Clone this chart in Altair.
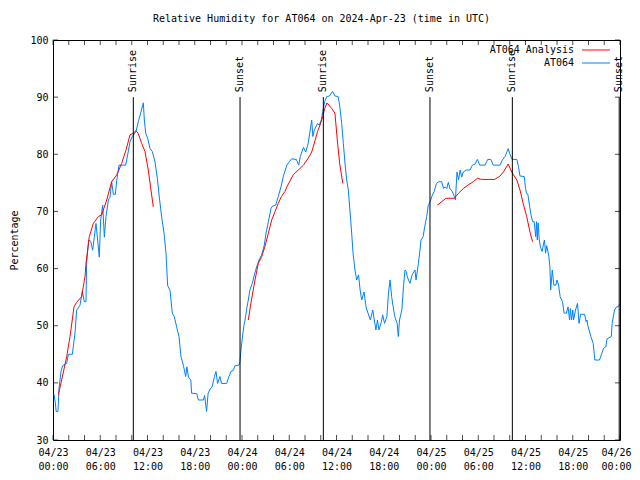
import altair as alt
import pandas as pd

# ---- data ----
obs_hours = [0.13, 0.3, 0.4, 0.63, 0.76, 1.02, 1.23, 1.74, 1.95, 2.46, 2.79, 3.0, 3.43, 3.72, 3.98, 4.19, 4.27,
             4.53, 4.78, 5.04, 5.25, 5.46, 5.67, 5.88, 6.05, 6.31, 6.52, 6.73, 7.03, 7.24, 7.45, 7.66, 7.92, 8.09,
             8.38, 9.23, 9.48, 9.78, 10.07, 10.54, 10.83, 11.13, 11.47, 11.6, 11.77, 12.02, 12.32, 12.61, 12.95,
             13.25, 13.5, 13.8, 14.1, 14.35, 14.56, 14.86, 15.15, 15.4, 15.7, 16.0, 16.25, 16.55, 16.85, 17.0,
             17.2, 17.5, 17.6, 18.25, 18.46, 19.1, 19.25, 19.4, 19.5, 19.7, 19.95, 20.2, 20.5, 20.7, 20.9, 21.2,
             21.4, 22.05, 22.35, 22.6, 22.9, 23.1, 23.6, 23.74, 23.87, 24.04, 24.25, 24.38, 24.6, 24.8, 25.0,
             25.3, 25.57, 25.86, 26.16, 26.5, 26.83, 27.05, 27.35, 27.68, 27.85, 28.28, 28.6, 28.95, 29.3, 29.7,
             30.0, 30.3, 30.9, 31.2, 31.4, 31.8, 32.1, 32.4, 32.6, 32.85, 33.0, 33.2, 33.6, 33.8, 34.07, 34.25,
             34.5, 34.76, 35.1, 35.5, 35.8, 36.2, 36.4, 36.66, 36.87, 37.1, 37.3, 37.5, 37.7, 37.9, 38.1, 38.35,
             38.56, 38.8, 39.0, 39.2, 39.5, 39.75, 40.0, 40.3, 40.6, 40.8, 41.0, 41.2, 41.4, 41.7, 41.86, 42.1,
             42.4, 42.6, 42.8, 43.0, 43.2, 43.4, 43.7, 43.85, 44.0, 44.3, 44.5, 44.7, 44.85, 45.0, 45.33, 45.6,
             45.97, 46.1, 46.4, 46.6, 46.73, 47.0, 47.2, 47.45, 47.66, 47.9, 48.1, 48.4, 48.7, 49.0, 49.35, 49.6,
             49.8, 50.0, 50.2, 50.4, 50.7, 50.96, 51.1, 51.3, 51.5, 51.7, 51.9, 52.1, 52.5, 52.96, 53.25, 53.6,
             53.88, 54.2, 54.86, 55.2, 55.6, 55.9, 56.76, 57.05, 57.4, 57.8, 58.0, 58.3, 58.9, 59.1, 59.3, 59.85,
             60.0, 60.15, 60.3, 60.5, 60.7, 60.9, 61.1, 61.3, 61.4, 61.5, 61.6, 61.75, 61.9, 62.1, 62.4, 62.55,
             62.7, 62.97, 63.1, 63.2, 63.3, 63.4, 63.6, 63.85, 64.0, 64.2, 64.4, 64.7, 64.9, 65.2, 65.4, 65.6,
             65.7, 65.85, 66.0, 66.1, 66.35, 66.6, 66.8, 67.0, 67.5, 67.7, 67.8, 67.9, 68.3, 68.6, 68.8, 69.4,
             69.7, 69.9, 70.2, 70.35, 70.9, 71.0, 71.3, 71.5, 71.8, 72.0]
obs_rh = [38, 36.5, 35, 35, 39, 42, 43, 43.4, 45, 45, 48.7, 52.7, 53.6, 56, 54.2, 54.2, 61,
          65, 64.8, 63.2, 65.6, 67.9, 65, 62, 68.5, 71.1, 65.5, 69.1, 72, 72.5, 75.2, 73, 73, 75.4,
          78.1, 78.1, 79.9, 82.2, 83.1, 84, 85.7, 87.2, 89, 86, 83.7, 82.8, 81, 80.5, 78.7,
          75.8, 72.5, 69, 66.2, 62.7, 57, 56.2, 52.2, 51.6, 49.8, 48.1, 44.6, 43.1, 41.1, 42.8,
          41, 40.5, 38.2, 38.1, 37, 37, 37.8, 36.1, 35, 38.2, 38.9, 39.3, 41.1, 42, 39.9, 41.1,
          39.9, 39.9, 41.1, 42, 42.2, 43, 43.1, 43.7, 45.75, 47.8, 50.1, 50.9, 53, 54.5, 56.25,
          57.4, 58.9, 60.3, 61.5, 62.4, 64.1, 66.2, 68.2, 70.5, 70.9, 71.1, 72.6, 74.3, 76.4, 78.1,
          78.7, 79.2, 79.1, 78.1, 79.6, 81.2, 80.4, 81.9, 83.7, 86, 83.1, 84.3, 85.4, 85.1, 86, 87.45,
          89.2, 90.1, 90.2, 91, 90.2, 90.1, 88.6, 85.4, 81.9, 78.1, 75.5, 73.75, 70.25, 66.75, 62.7, 59.75,
          58, 58.9, 56.25, 54.5, 55.9, 53.3, 52.2, 51, 52.75, 51, 49.25, 51, 49.25, 50.7, 51.9, 50.4,
          51.6, 55.7, 58, 55.1, 53.3, 51.6, 50.4, 48.1, 51, 52.75, 56.8, 59.75, 59.5, 58.5, 57.4, 58.9,
          59.75, 58, 60.9, 63.25, 65, 65.6, 67.3, 69.1, 71.1, 71.7, 72.6, 73.5, 74.9, 75.2, 75.2, 74,
          74.3, 74, 75.1, 74, 73.5, 72.6, 72, 76.9, 75.5, 77.25, 76, 76.9, 77.25, 77.25, 78.1, 78.3,
          79.1, 78.1, 78.1, 79.1, 79.1, 78.1, 78.1, 79, 79.6, 81, 80.1, 79.1, 79.1, 77.9, 76.2, 76.1,
          74, 73.1, 73.0, 71.1, 69.4, 68.2, 68.2, 65.6, 68.2, 65, 68, 65, 63.8, 63, 65, 62.7,
          64, 62.1, 60.3, 56.25, 58, 59.75, 57.1, 57.1, 58, 57.1, 55.1, 54.2, 52.2, 52.2, 53.3, 51,
          53, 51, 52.75, 51, 52.75, 53.9, 50.4, 52, 52, 50.7, 51, 50.1, 48.1, 46.9, 44, 44,
          45.2, 46, 46.3, 47.7, 48.1, 50.4, 52.75, 53.2, 53.4, 53.9]

ana_hours = [0.68, 1.1, 1.74, 2.16, 2.67, 3.0, 3.64, 4.06, 4.2, 4.61, 5.12, 5.76, 6.18, 6.82, 7.45, 8.09, 8.72,
             9.27, 9.78, 10.2, 10.54, 10.8, 11.26, 11.68, 12.1, 12.44, 12.74,
             24.8, 25.2, 25.65, 26.07, 26.5, 26.9, 27.35, 27.77, 28.2, 28.6, 29.0, 29.46, 29.7, 30.5, 31.15,
             31.8, 32.4, 32.85, 33.3, 33.6, 33.9, 34.25, 34.5, 34.8, 35.4, 35.8, 36.1, 36.4, 36.8,
             48.8, 49.35, 49.9, 50.96, 51.5, 52.1, 52.7, 53.37, 53.9, 54.4, 56.1, 56.76, 57.2, 57.8, 58.25,
             58.9, 59.3, 59.7, 60.15, 60.6, 60.9]
ana_rh = [37.9, 40.5, 44.6, 48.1, 53.3, 54.1, 55.1, 58.6, 61, 65.6, 67.9, 69.1, 69.4, 72, 75.2, 76.4, 78.4,
          80.75, 83.4, 83.7, 84.1, 83.7, 81.9, 80.5, 77.25, 73.75, 70.8,
          51, 54.5, 58, 60.9, 62.1, 63.8, 66.2, 68.5, 70, 71.4, 72.6, 73.5, 74.3, 76.4, 77.25,
          78.1, 79.3, 80.4, 82.5, 84, 85.1, 86.6, 88, 89, 88, 87.2, 82.5, 78.4, 74.9,
          71.1, 71.7, 72.3, 72.3, 73.2, 74.0, 74.6, 75.2, 75.8, 75.6, 75.6, 76.2, 76.9, 78.3, 76.9,
          75.5, 73.75, 71.4, 69.1, 66.2, 64.7]
ana_seg = [1] * 27 + [2] * 29 + [3] * 21

event_hours = [10.2, 23.75, 34.33, 47.87, 58.33, 71.9]
event_names = ["Sunrise", "Sunset", "Sunrise", "Sunset", "Sunrise", "Sunset"]

x_ticks = list(range(0, 73, 2))
x_labels = list(range(0, 73, 6))
y_ticks = list(range(30, 101, 10))

series_names = ["AT064 Analysis", "AT064"]
series_colors = ["#ff0000", "#0080ff"]
title_text = "Relative Humidity for AT064 on 2024-Apr-23 (time in UTC)"

FONT = "DejaVu Sans Mono"
W, H = 567, 400

obs = pd.DataFrame({"h": obs_hours, "rh": obs_rh})
ana = pd.DataFrame({"h": ana_hours, "rh": ana_rh, "seg": ana_seg})
ev = pd.DataFrame({"h": event_hours, "name": event_names})
xt = pd.DataFrame({"h": x_ticks})
yt = pd.DataFrame({"v": y_ticks})
one = pd.DataFrame({"k": [0]})

xscale = alt.Scale(domain=[0, 72], nice=False, zero=False)
yscale = alt.Scale(domain=[30, 100], nice=False, zero=False)

label_expr = ("['04/' + (23 + floor(datum.value / 24)), "
              "(datum.value % 24 < 10 ? '0' : '') + (datum.value % 24) + ':00']")

xaxis = alt.Axis(values=x_labels, labelExpr=label_expr, title=None, ticks=False, domain=False,
                 grid=False, labelPadding=7, labelFlush=False, labelOverlap=False, labelBound=False,
                 labelLineHeight=14, labelBaseline="top",
                 labelOffset=alt.ExprRef(expr="datum.value == 72 ? -4 : 0"))
yaxis = alt.Axis(values=y_ticks, title="Percentage", ticks=False, domain=False, grid=False,
                 labelPadding=5, titleX=-39, titleY=200, titleAngle=270, titleAlign="center",
                 titleBaseline="middle")

base_line = alt.Chart(obs).mark_line(color=series_colors[1], strokeWidth=1, clip=True).encode(
    x=alt.X("h:Q", scale=xscale, axis=xaxis, title=None),
    y=alt.Y("rh:Q", scale=yscale, axis=yaxis, title="Percentage"),
)

ana_line = alt.Chart(ana).mark_line(color=series_colors[0], strokeWidth=1, clip=True).encode(
    x=alt.X("h:Q", title=None),
    y=alt.Y("rh:Q", title="Percentage"),
    detail="seg:N",
)

ev_rule = alt.Chart(ev).mark_rule(color="black", strokeWidth=1).encode(
    x=alt.X("h:Q", title=None),
    y=alt.datum(30, title="Percentage"),
    y2=alt.datum(90),
)
ev_text = alt.Chart(ev).mark_text(angle=270, align="left", baseline="middle", dx=5, font=FONT,
                                  fontSize=10, color="black").encode(
    x=alt.X("h:Q", title=None),
    y=alt.datum(90, title="Percentage"),
    text="name:N",
)

tick_bottom = alt.Chart(xt).mark_tick(orient="vertical", size=5, thickness=1, color="black",
                                      yOffset=-2.5).encode(
    x=alt.X("h:Q", title=None), y=alt.datum(30, title="Percentage"))
tick_top = alt.Chart(xt).mark_tick(orient="vertical", size=5, thickness=1, color="black",
                                   yOffset=2.5).encode(
    x=alt.X("h:Q", title=None), y=alt.datum(100, title="Percentage"))
tick_left = alt.Chart(yt).mark_tick(orient="horizontal", size=5, thickness=1, color="black",
                                    xOffset=2.5).encode(
    y=alt.Y("v:Q", title="Percentage"), x=alt.datum(0, title=None))
tick_right = alt.Chart(yt).mark_tick(orient="horizontal", size=5, thickness=1, color="black",
                                     xOffset=-2.5).encode(
    y=alt.Y("v:Q", title="Percentage"), x=alt.datum(72, title=None))

# legend (gnuplot style: label then line sample), top-right inside the plot
leg = []
for i, (name, col) in enumerate(zip(series_names, series_colors)):
    ypix = 10 + 13 * i
    leg.append(alt.Chart(one).mark_text(align="right", baseline="middle", font=FONT, fontSize=10,
                                        color="black").encode(
        x=alt.value(521), y=alt.value(ypix), text=alt.value(name)))
    leg.append(alt.Chart(one).mark_rule(color=col, strokeWidth=1).encode(
        x=alt.value(529), x2=alt.value(557), y=alt.value(ypix)))

title = alt.Chart(one).mark_text(align="center", baseline="middle", font=FONT, fontSize=10,
                                 color="black").encode(
    x=alt.value(W / 2 - 15), y=alt.value(-21), text=alt.value(title_text))

chart = alt.layer(
    base_line, ana_line, ev_rule, ev_text, tick_bottom, tick_top, tick_left, tick_right, title, *leg
).properties(
    width=W, height=H,
    padding={"left": 45, "top": 32, "right": 12, "bottom": 32},
    autosize=alt.AutoSizeParams(type="none"),
    background="white",
).configure_view(
    stroke="black", strokeWidth=1
).configure_axis(
    labelFont=FONT, labelFontSize=10, labelColor="black",
    titleFont=FONT, titleFontSize=10, titleFontWeight="normal", titleColor="black",
)

chart.save("out.html", embed_options={"renderer": "svg", "actions": False})
